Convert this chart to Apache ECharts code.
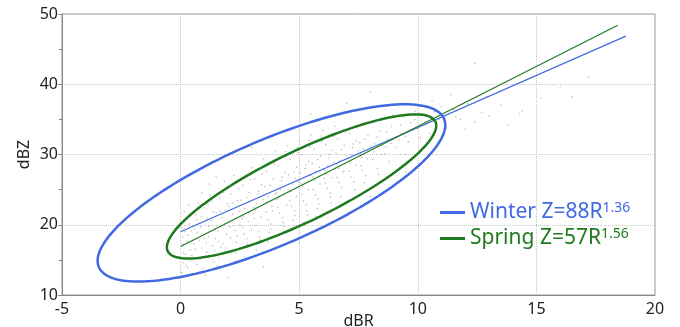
<!DOCTYPE html>
<html>
<head>
<meta charset="utf-8">
<script src="https://cdn.jsdelivr.net/npm/echarts@6/dist/echarts.min.js"></script>
<style>
  html, body { margin: 0; padding: 0; background: #fff; }
  #chart { width: 680px; height: 327px; }
</style>
</head>
<body>
<div id="chart"></div>
<script>
// season names, Z-R coefficients (legend text)
var seasons = ['Winter', 'Spring']
var coefA = ['88', '57']
var expB = ['1.36', '1.56']

// ellipse params: [cx, cy, x amplitude, y amplitude (cos), y amplitude (sin)]
var winterEllipse = [3.83, 24.53, 7.33, 9.67, 8.1]
var springEllipse = [5.1, 25.45, 5.68, 8.66, 5.5]

// fitted lines, end points [dBR, dBZ]
var winterFit = [[0, 19.0], [18.77, 46.85]]
var springFit = [[0, 16.9], [18.43, 48.4]]

// observed dBR / dBZ pairs (read approximately from the cloud)
var obs = [
  [0.05,13.2],[0.1,14.6],[0.2,15.8],[0.1,17.2],[0.3,18.5],[0.05,19.6],[0.2,20.8],[0.4,16.4],[0.3,13.9],[0.15,21.9],[0.45,19.1],[0.35,22.8],[0.25,12.8],[0.5,17.8],[0.4,14.9],
  [0.6,15.2],[0.7,18.9],[0.8,20.2],[0.9,16.7],[0.65,21.4],[0.95,13.8],[0.75,23.1],[0.55,17.3],[0.85,19.7],[1.0,22.4],[0.7,14.3],[0.9,24.5],
  [1.1,16.1],[1.2,18.3],[1.3,20.6],[1.4,14.7],[1.15,22.9],[1.45,19.4],[1.35,17.0],[1.25,24.1],[1.05,12.9],[1.5,21.7],[1.2,25.8],
  [1.6,17.6],[1.7,19.9],[1.8,15.9],[1.9,22.1],[1.65,23.8],[1.95,18.6],[1.75,21.0],[1.55,14.2],[1.85,26.2],[2.0,20.4],[1.7,16.8],
  [2.1,18.1],[2.2,21.5],[2.3,19.2],[2.4,23.4],[2.15,16.3],[2.45,25.1],[2.35,17.5],[2.25,27.0],[2.05,22.6],[2.5,20.0],[2.3,14.8],
  [2.6,19.6],[2.7,22.3],[2.8,18.0],[2.9,24.6],[2.65,21.1],[2.95,26.4],[2.75,16.9],[2.55,23.5],[2.85,20.5],[3.0,28.1],[2.7,15.5],
  [3.1,20.9],[3.2,23.0],[3.3,19.0],[3.4,25.7],[3.15,22.0],[3.45,27.3],[3.35,17.8],[3.25,24.3],[3.05,21.6],[3.5,29.4],[3.2,16.4],
  [3.6,21.8],[3.7,24.0],[3.8,20.1],[3.9,26.5],[3.65,23.2],[3.95,28.6],[3.75,18.9],[3.55,25.4],[3.85,22.6],[4.0,30.5],[3.7,17.6],
  [4.1,22.5],[4.2,25.0],[4.3,21.0],[4.4,27.4],[4.15,23.9],[4.45,29.7],[4.35,19.8],[4.25,26.3],[4.05,24.6],[4.5,31.2],[4.2,18.7],
  [4.6,23.4],[4.7,25.8],[4.8,22.0],[4.9,28.2],[4.65,24.7],[4.95,30.3],[4.75,20.6],[4.55,27.1],[4.85,26.6],[5.0,32.0],[4.7,19.5],
  [5.1,24.3],[5.2,26.7],[5.3,22.8],[5.4,29.0],[5.15,25.5],[5.45,31.1],[5.35,21.4],[5.25,28.0],[5.05,27.4],[5.5,32.8],[5.2,20.3],
  [5.6,25.0],[5.7,27.6],[5.8,23.7],[5.9,29.8],[5.65,26.3],[5.95,31.9],[5.75,22.3],[5.55,28.7],[5.85,28.2],[6.0,33.4],[5.7,21.2],
  [6.1,25.9],[6.2,28.4],[6.3,24.5],[6.4,30.6],[6.15,27.2],[6.45,32.5],[6.35,23.1],[6.25,29.5],[6.05,26.6],[6.5,34.0],
  [6.6,26.7],[6.7,29.1],[6.8,25.3],[6.9,31.3],[6.65,28.0],[6.95,33.1],[6.75,24.0],[6.55,30.2],[6.85,27.5],
  [7.1,27.6],[7.2,30.0],[7.3,26.1],[7.4,32.0],[7.15,28.8],[7.45,33.8],[7.35,25.0],[7.25,31.0],
  [7.6,28.4],[7.7,30.8],[7.8,27.0],[7.9,32.7],[7.65,29.6],[7.95,34.5],[7.75,26.0],[7.55,31.7],
  [8.1,29.3],[8.2,31.5],[8.3,28.0],[8.4,33.3],[8.15,30.4],[8.45,35.0],[8.35,27.2],
  [8.6,30.1],[8.7,32.2],[8.8,29.0],[8.9,34.0],[8.65,31.1],[8.95,35.6],
  [9.1,31.0],[9.3,33.0],[9.5,30.0],[9.7,34.5],[9.2,32.1],[9.9,36.2],[9.6,31.8],[9.4,35.3],
  [10.1,32.4],[10.3,34.6],[10.5,33.0],[10.7,36.1],[10.2,30.8],[10.9,35.0],[10.6,37.6],
  [11.2,33.8],[11.5,36.4],[11.8,35.0],[12.1,37.2],[12.4,34.6],[12.7,36.0],[11.4,38.5],[12.4,43.0],[13.0,35.5],[12.9,38.3],
  [13.5,37.0],[14.4,36.2],[14.3,35.8],[15.2,38.0],[16.5,38.2],[17.2,41.0],[13.8,34.2],[16.0,39.5],
  [1.5,26.8],[3.0,31.0],[5.5,35.8],[7.0,37.3],[8.0,38.9],[2.0,12.5],[3.5,14.0],[5.0,17.5],[6.5,20.5],[8.0,24.0],[9.5,27.5],
  // second pass over the dense core
  [0.12,16.0],[0.28,17.6],[0.36,20.1],[0.08,18.3],[0.48,15.6],[0.22,14.2],[0.42,21.3],[0.18,19.0],
  [0.62,16.5],[0.78,17.8],[0.88,21.1],[0.58,19.4],[0.98,18.1],[0.68,20.7],[0.82,15.1],[0.92,22.9],
  [1.08,17.4],[1.18,19.8],[1.28,15.5],[1.38,21.8],[1.48,18.0],[1.12,20.9],[1.32,23.3],[1.42,16.3],
  [1.58,19.1],[1.68,21.9],[1.78,17.3],[1.88,20.2],[1.98,23.0],[1.62,15.3],[1.82,24.6],[1.92,16.7],
  [2.08,19.7],[2.18,23.1],[2.28,20.8],[2.38,18.4],[2.48,21.9],[2.12,24.4],[2.32,16.0],[2.42,26.2],
  [2.58,20.9],[2.68,18.7],[2.78,23.8],[2.88,21.7],[2.98,19.3],[2.62,25.6],[2.82,17.2],[2.92,27.3],
  [3.08,22.4],[3.18,19.9],[3.28,24.8],[3.38,21.1],[3.48,23.6],[3.12,26.5],[3.32,18.2],[3.42,28.0],
  [3.58,23.1],[3.68,20.7],[3.78,25.6],[3.88,22.0],[3.98,24.4],[3.62,27.6],[3.82,19.4],[3.92,29.2],
  [4.08,23.6],[4.18,21.7],[4.28,26.8],[4.38,24.3],[4.48,22.8],[4.12,28.4],[4.32,20.3],[4.42,30.4],
  [4.58,25.0],[4.68,22.6],[4.78,27.5],[4.88,24.0],[4.98,26.1],[4.62,29.3],[4.82,21.3],[4.92,31.0],
  [5.08,25.9],[5.18,23.4],[5.28,28.5],[5.38,25.0],[5.48,27.0],[5.12,30.0],[5.32,22.0],[5.42,32.0],
  [5.58,26.8],[5.68,24.2],[5.78,29.3],[5.88,25.8],[5.98,27.9],[5.62,30.8],[5.82,23.0],[5.92,32.6],
  [6.08,27.8],[6.18,25.2],[6.28,30.0],[6.38,26.7],[6.48,28.9],[6.12,31.4],[6.32,24.0],
  [6.58,28.6],[6.68,26.0],[6.78,30.7],[6.88,27.6],[6.98,29.8],[6.62,32.2],
  [7.08,29.4],[7.18,26.8],[7.28,31.5],[7.38,28.5],[7.48,30.5],[7.12,33.0],
  [7.58,30.2],[7.68,27.8],[7.78,32.2],[7.88,29.4],[7.98,31.2],
  [8.08,31.0],[8.28,32.5],[8.48,30.0],[8.68,33.2],[8.88,31.6],
  [9.08,32.4],[9.28,34.2],[9.48,32.6],[9.68,33.4],[9.88,35.0],
  [10.0,33.7],[10.4,35.6],[10.8,34.0],[11.0,36.8],[11.6,35.4],[12.0,33.6]
]

var xTicks = { min: -5, max: 20, interval: 5 }
var yTicks = { min: 10, max: 50, interval: 10 }

var blue = '#4169e1'
var green = '#1f7a1f'
var font = 'Noto Sans'

function ellipsePoints (p) {
  var pts = []
  for (var i = 0; i <= 180; i++) {
    var t = 2 * Math.PI * i / 180
    pts.push([p[0] + p[2] * Math.cos(t), p[1] + p[3] * Math.cos(t) + p[4] * Math.sin(t)])
  }
  return pts
}

var chart = echarts.init(document.getElementById('chart'), null, { renderer: 'canvas' })

var option = {
  animation: false,
  grid: {
    left: 62, right: 25, top: 14, bottom: 32,
    outerBoundsMode: 'none',
    containLabel: false,
    show: true, borderColor: '#999', borderWidth: 1
  },
  legend: {
    orient: 'vertical',
    left: 440,
    top: 201,
    padding: 0,
    icon: 'rect',
    itemWidth: 25,
    itemHeight: 3,
    itemGap: 4,
    data: seasons,
    formatter: function (name) {
      var i = seasons.indexOf(name)
      var k = i === 0 ? 'w' : 's'
      return '{' + k + '|' + name + ' Z=' + coefA[i] + 'R}{' + k + 's|' + expB[i] + '}'
    },
    textStyle: {
      fontFamily: font,
      padding: [0, 0, 0, 0],
      rich: {
        w: { color: blue, fontSize: 21, fontFamily: font },
        ws: { color: blue, fontSize: 14, fontFamily: font, padding: [0, 0, 9, 0] },
        s: { color: green, fontSize: 21, fontFamily: font },
        ss: { color: green, fontSize: 14, fontFamily: font, padding: [0, 0, 9, 0] }
      }
    }
  },
  xAxis: {
    type: 'value',
    min: xTicks.min, max: xTicks.max, interval: xTicks.interval,
    name: 'dBR',
    nameLocation: 'middle',
    nameGap: 18,
    nameMoveOverlap: false,
    nameTextStyle: { color: '#222', fontSize: 16, fontFamily: font },
    axisLine: { show: true, onZero: false, lineStyle: { color: '#888' } },
    axisTick: { show: false },
    axisLabel: { color: '#222', fontSize: 16, fontFamily: font, margin: 6 },
    splitLine: { show: true, lineStyle: { color: '#c8c8c8', type: 'dotted' } }
  },
  yAxis: {
    type: 'value',
    min: yTicks.min, max: yTicks.max, interval: yTicks.interval,
    name: 'dBZ',
    nameLocation: 'middle',
    nameGap: 30,
    nameMoveOverlap: false,
    nameRotate: 90,
    nameTextStyle: { color: '#222', fontSize: 16, fontFamily: font },
    axisLine: { show: true, onZero: false, lineStyle: { color: '#888' } },
    axisTick: { show: true, length: 4, lineStyle: { color: '#888' } },
    minorTick: { show: true, splitNumber: 2, length: 3, lineStyle: { color: '#888' } },
    axisLabel: { color: '#222', fontSize: 16, fontFamily: font, margin: 4 },
    splitLine: { show: true, lineStyle: { color: '#c8c8c8', type: 'dotted' } }
  },
  series: [
    {
      name: 'obs',
      type: 'scatter',
      data: obs,
      symbolSize: 1.6,
      itemStyle: { color: '#b4b4b4', opacity: 0.85 },
      z: 1
    },
    {
      name: 'Winter',
      type: 'line',
      data: ellipsePoints(winterEllipse),
      symbol: 'none',
      smooth: false,
      lineStyle: { color: blue, width: 2.5 },
      itemStyle: { color: blue },
      z: 3
    },
    {
      name: 'Spring',
      type: 'line',
      data: ellipsePoints(springEllipse),
      symbol: 'none',
      smooth: false,
      lineStyle: { color: green, width: 2.5 },
      itemStyle: { color: green },
      z: 3
    },
    {
      name: 'WinterFit',
      type: 'line',
      data: winterFit,
      symbol: 'none',
      lineStyle: { color: blue, width: 1.2 },
      z: 2
    },
    {
      name: 'SpringFit',
      type: 'line',
      data: springFit,
      symbol: 'none',
      lineStyle: { color: green, width: 1.2 },
      z: 2
    }
  ]
}

chart.setOption(option)
</script>
</body>
</html>
